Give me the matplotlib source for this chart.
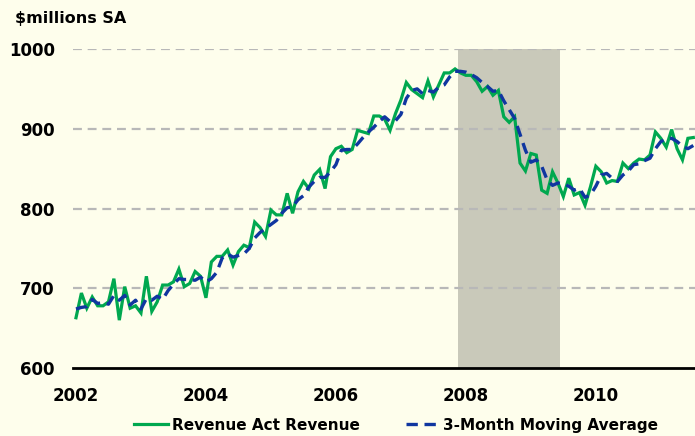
import matplotlib
matplotlib.use("Agg")
import matplotlib.pyplot as plt
import numpy as np

# Monthly data, Jan 2002 .. Jul 2011
start_year = 2002
revenue = [663, 694, 675, 689, 678, 678, 683, 712, 660, 702, 675, 678,
           669, 715, 671, 683, 704, 704, 708, 724, 702, 706, 721, 715,
           688, 733, 740, 740, 748, 729, 746, 754, 751, 783, 776, 765,
           798, 792, 792, 819, 794, 821, 834, 825, 842, 849, 825, 865,
           875, 878, 870, 874, 898, 896, 894, 916, 916, 912, 898, 919,
           936, 958, 949, 944, 939, 960, 940, 955, 970, 970, 975, 970,
           967, 967, 959, 947, 953, 942, 948, 915, 908, 915, 857, 847,
           869, 867, 823, 819, 846, 832, 815, 838, 817, 820, 804, 827,
           853, 846, 832, 835, 834, 857, 850, 857, 862, 861, 867, 896,
           888, 877, 899, 875, 861, 888, 889]
moving_avg = [674, 676, 677, 686, 681, 682, 680, 691, 685, 691, 679, 685,
              674, 687, 685, 690, 686, 697, 705, 712, 711, 711, 710, 714,
              708, 712, 720, 738, 743, 739, 741, 743, 750, 763, 770, 775,
              780, 785, 794, 801, 802, 811, 816, 827, 834, 839, 839, 846,
              855, 873, 874, 874, 881, 889, 896, 902, 909, 915, 909, 910,
              918, 938, 948, 950, 944, 948, 946, 952, 955, 965, 972, 972,
              971, 968, 964, 958, 953, 947, 948, 935, 924, 913, 893, 873,
              858, 861, 853, 836, 829, 832, 831, 828, 823, 825, 814, 817,
              828, 842, 844, 838, 834, 842, 847, 855, 856, 860, 863, 875,
              884, 887, 888, 884, 878, 875, 879]
recession = (2007.88, 2009.45)
yticks = [600, 700, 800, 900, 1000]
xticks = [2002, 2004, 2006, 2008, 2010]
labels = ["Revenue Act Revenue", "3-Month Moving Average"]

x = start_year + np.arange(len(revenue)) / 12.0

bg = "#FEFEEC"
fig = plt.figure(figsize=(6.95, 4.36), dpi=100, facecolor=bg)
ax = fig.add_axes([73 / 695, (436 - 368) / 436, 1 - 73 / 695, (368 - 49) / 436])
ax.set_facecolor(bg)

ax.axvspan(recession[0], recession[1], color="#C9C9BA", zorder=0, lw=0)
for v in yticks[1:]:
    ax.axhline(v, color="#B8B8B8", lw=1.6, dashes=(4, 2.6), zorder=1)

l1, = ax.plot(x, revenue, color="#00A84F", lw=2.3, zorder=3, solid_joinstyle="miter")
l2, = ax.plot(x, moving_avg, color="#1036A0", lw=2.4, dashes=(3.4, 2.0), zorder=4)

ax.set_xlim(2001.954, 2011.526)
ax.set_ylim(600, 1000)
ax.set_yticks(yticks)
ax.set_xticks(xticks)
ax.set_xticklabels([str(t) for t in xticks])
for s in ["left", "right", "top"]:
    ax.spines[s].set_visible(False)
ax.spines["bottom"].set_linewidth(2)
ax.spines["bottom"].set_color("black")
ax.tick_params(axis="both", length=0, labelsize=12)
ax.tick_params(axis="y", pad=13)
ax.tick_params(axis="x", pad=14)
for t in ax.get_xticklabels() + ax.get_yticklabels():
    t.set_fontweight("bold")

fig.text(15 / 695, 1 - 18 / 436, "$millions SA", fontsize=11.5, fontweight="bold",
         ha="left", va="center")

leg = fig.legend([l1, l2], labels, loc="center", bbox_to_anchor=(0.570, 1 - 425 / 436),
                 ncol=2, frameon=False, handlelength=2.2, columnspacing=3.0,
                 handletextpad=0.25, prop={"weight": "bold", "size": 11})

fig.savefig("out.png", dpi=100, facecolor=bg)
